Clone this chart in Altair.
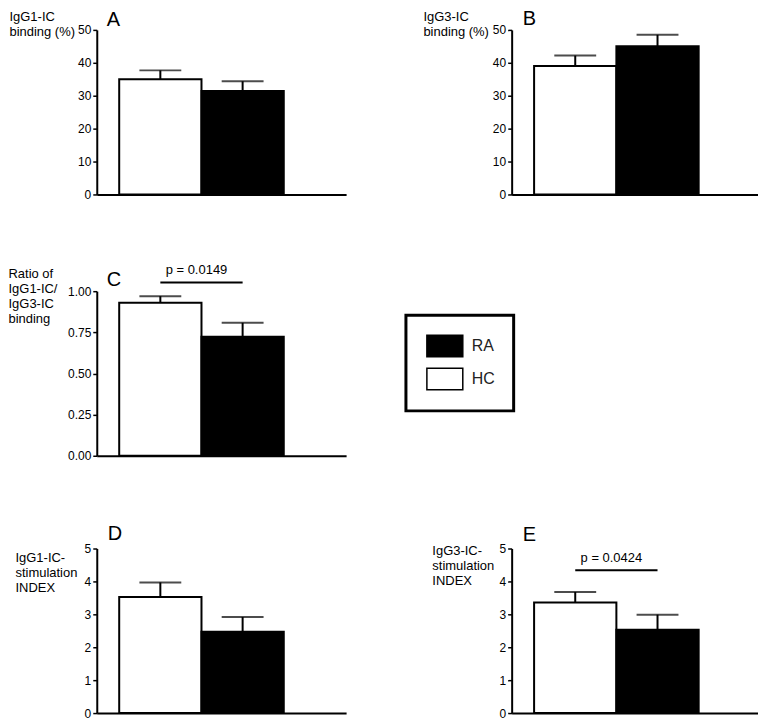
import altair as alt
import pandas as pd

FONT = "Liberation Sans"

groups = ["HC", "RA"]
legend_groups = ["RA", "HC"]
legend_fills = ["black", "white"]

a_mean = [35.0, 31.4]
a_upper = [37.7, 34.4]
b_mean = [39.0, 45.0]
b_upper = [42.2, 48.5]
c_mean = [0.93, 0.723]
c_upper = [0.97, 0.808]
d_mean = [3.53, 2.47]
d_upper = [3.97, 2.92]
e_mean = [3.36, 2.53]
e_upper = [3.68, 2.99]

c_ptext = ["p = 0.0149"]
c_pline = [1.053]
e_ptext = ["p = 0.0424"]
e_pline = [4.34]

ticks_50 = [0, 10, 20, 30, 40, 50]
ticks_1 = [0, 0.25, 0.5, 0.75, 1.0]
ticks_5 = [0, 1, 2, 3, 4, 5]

H = 165
STEP = 82.5
LEFT = 22.5
C_SHIFT = 4


def xscale(width):
    po = (width / STEP - 2) / 2
    al = LEFT / (width - 2 * STEP)
    return alt.Scale(domain=groups, paddingInner=0, paddingOuter=po, align=al)


def panel(letter, mean, upper, ymax, ticks, fmt, ytitle, tx, ty, lx, ly, width,
          ptext=None, pline=None, legend=None, shift=0):
    df = pd.DataFrame({"group": groups, "mean": mean, "upper": upper})
    xs = xscale(width)
    xaxis = alt.Axis(labels=False, ticks=False, title=None, domainWidth=2,
                     domainColor="black", grid=False)
    if shift:
        ys = alt.Scale(domain=[0, ymax], nice=False, zero=True, range=[H + shift, shift])
    else:
        ys = alt.Scale(domain=[0, ymax], nice=False, zero=True)
    yaxis = alt.Axis(values=ticks, format=fmt, title=ytitle, titleAngle=0,
                     titleAlign="left", titleBaseline="alphabetic", titleX=tx, titleY=ty,
                     titleFont=FONT, titleFontSize=13, titleFontWeight="normal",
                     titleLineHeight=15, titleColor="black",
                     labelFont=FONT, labelFontSize=12, labelColor="black", labelPadding=2,
                     labelOverlap=False, tickSize=4, tickWidth=1.5, tickColor="black",
                     domainWidth=2, domainColor="black", grid=False)
    fill = alt.Fill("group:N", scale=alt.Scale(domain=legend_groups, range=legend_fills),
                    legend=legend)
    X = alt.X("group:N", scale=xs, axis=xaxis)
    base = alt.Chart(df)
    bars = base.mark_bar(stroke="black", strokeWidth=2).encode(
        x=X, y=alt.Y("mean:Q", scale=ys, axis=yaxis), fill=fill)
    err = base.mark_rule(color="black", strokeWidth=2).encode(
        x=X, y=alt.Y("mean:Q", scale=ys, axis=yaxis), y2="upper:Q")
    cap = base.mark_tick(color="black", thickness=2, size=42).encode(
        x=X, y=alt.Y("upper:Q", scale=ys, axis=yaxis))
    lab = alt.Chart(pd.DataFrame({"letter": [letter]})).mark_text(
        font=FONT, fontSize=20, align="left", baseline="alphabetic", color="black"
    ).encode(x=alt.value(lx), y=alt.value(ly + shift), text="letter:N")
    layers = [bars, err, cap, lab]
    if ptext is not None:
        pdf = pd.DataFrame({"x1": [groups[0]], "x2": [groups[1]], "y": pline, "label": ptext})
        pb = alt.Chart(pdf)
        rule = pb.mark_rule(color="black", strokeWidth=2).encode(
            x=alt.X("x1:N", scale=xs, axis=xaxis), x2="x2:N",
            y=alt.Y("y:Q", scale=ys, axis=yaxis))
        txt = pb.mark_text(font=FONT, fontSize=13, dx=-5, dy=-8.5, baseline="alphabetic",
                           color="black").encode(
            x=alt.X("x2:N", scale=xs, bandPosition=0, axis=xaxis),
            y=alt.Y("y:Q", scale=ys, axis=yaxis),
            text="label:N")
        layers += [rule, txt]
    return alt.layer(*layers).properties(width=width, height=H + shift)


leg = alt.Legend(title=None, orient="none", legendX=310, legendY=28,
                 direction="vertical",
                 symbolType="M-1.5,-0.9L1.5,-0.9L1.5,0.9L-1.5,0.9Z", symbolSize=576,
                 symbolStrokeColor="black", symbolStrokeWidth=1.5, symbolOffset=8,
                 labelFont=FONT, labelFontSize=16, labelColor="#222", labelOffset=14,
                 rowPadding=5, padding=18, strokeColor="black", fillColor="white",
                 cornerRadius=0)

A = panel("A", a_mean, a_upper, 50, ticks_50, "d", ["IgG1-IC", "binding (%)"],
          -88, -9, 10, -4, 250)
B = panel("B", b_mean, b_upper, 50, ticks_50, "d", ["IgG3-IC", "binding (%)"],
          -89, -9, 11, -5, 247)
C = panel("C", c_mean, c_upper, 1, ticks_1, ".2f",
          ["Ratio of", "IgG1-IC/", "IgG3-IC", "binding"],
          -89, -14 + C_SHIFT, 10, -5, 250, c_ptext, c_pline, leg, shift=C_SHIFT)
D = panel("D", d_mean, d_upper, 5, ticks_5, "d", ["IgG1-IC-", "stimulation", "INDEX"],
          -82, 13, 11, -9, 250)
E = panel("E", e_mean, e_upper, 5, ticks_5, "d", ["IgG3-IC-", "stimulation", "INDEX"],
          -80, 6, 11, -8, 247, e_ptext, e_pline)

blank = alt.Chart(pd.DataFrame({"v": [0]})).mark_point(opacity=0).encode(
    x=alt.X("v:Q", axis=None), y=alt.Y("v:Q", axis=None)
).properties(width=247, height=H)

chart = alt.concat(
    A, B, C, blank, D, E, columns=2, spacing={"row": 93, "column": 166},
    bounds="flush", align="each"
).resolve_scale(fill="independent").properties(padding=0).configure_view(
    stroke=None
).configure_legend(strokeWidth=3)

chart.save("out.html", embed_options={"renderer": "svg", "actions": False})
